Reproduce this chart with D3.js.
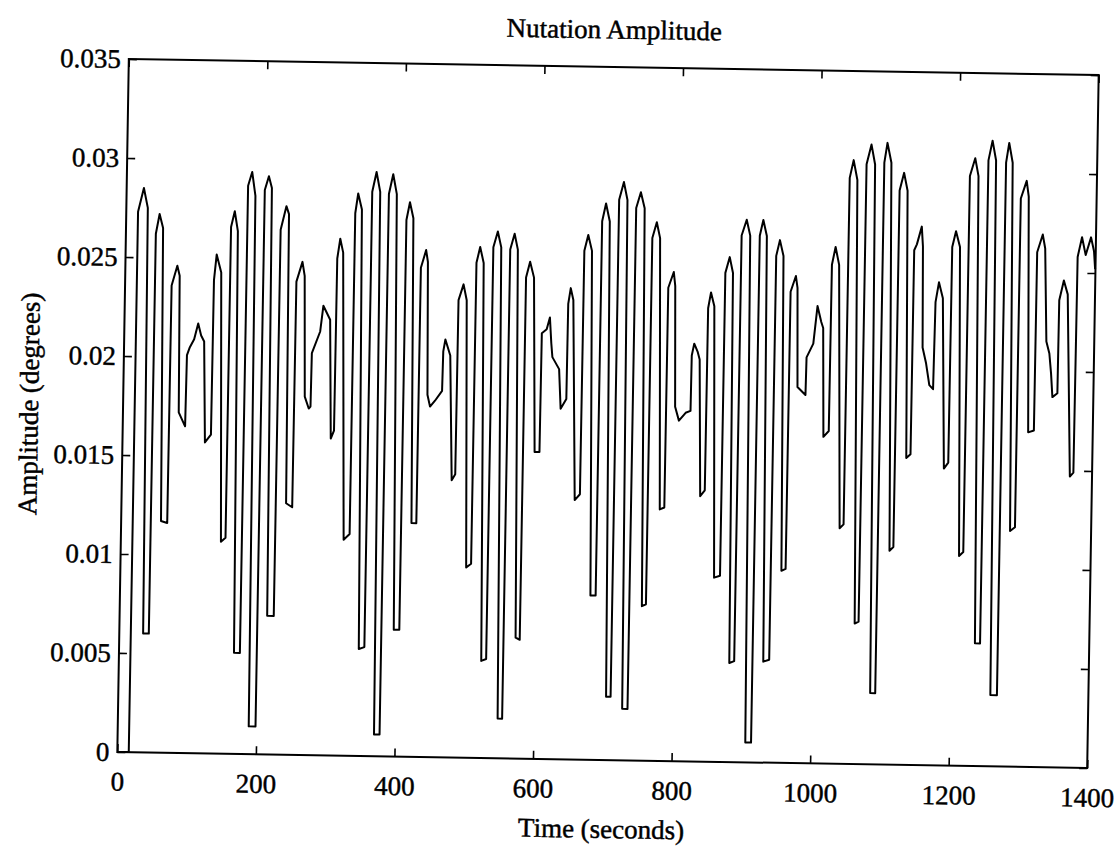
<!DOCTYPE html>
<html>
<head>
<meta charset="utf-8">
<title>Nutation Amplitude</title>
<script src="https://d3js.org/d3.v7.min.js"></script>
<style>
  body { margin: 0; background: #fff; }
  text { font-family: "Liberation Serif", "DejaVu Serif", serif; fill: #000; stroke: #000; stroke-width: 0.45px; }
</style>
</head>
<body>
<script>
// axis ticks
var timeTicks = [0, 200, 400, 600, 800, 1000, 1200, 1400];
var ampTicks = [0, 0.005, 0.01, 0.015, 0.02, 0.025, 0.03, 0.035];
var ampTickLabels = ["0", "0.005", "0.01", "0.015", "0.02", "0.025", "0.03", "0.035"];

// trace vertices: [time (s), amplitude (deg)]
var nutation = [
  [0, 0], [16.5, 0],
  [17, 0.0273], [24.9, 0.0285], [31, 0.0275], [34.4, 0.0060], [42.6, 0.0060],
  [43.2, 0.0262], [48.2, 0.0272], [53.5, 0.0265], [57.5, 0.0117], [66.5, 0.0116],
  [67.2, 0.0236], [75, 0.0246], [78.6, 0.0241], [80.5, 0.0172], [90, 0.0165],
  [91, 0.0201], [95, 0.0205], [101, 0.0209], [106.5, 0.0217], [111, 0.0211], [115.5, 0.0208], [119, 0.0157], [127.5, 0.0161],
  [128.2, 0.0239], [131.5, 0.0252], [138.5, 0.0243], [144.5, 0.0107], [151, 0.0109],
  [151.6, 0.0266], [156.6, 0.0274], [161.5, 0.0264], [166, 0.0051], [174.5, 0.0051],
  [175.2, 0.0287], [180.8, 0.0294], [186, 0.0282], [189, 0.0014], [198.8, 0.0014],
  [199.4, 0.0285], [205, 0.0292], [209.6, 0.0286], [213, 0.0070], [222.5, 0.0070],
  [223.2, 0.0265], [231, 0.0277], [234.9, 0.0273], [237.6, 0.0127], [246.5, 0.0125],
  [247.2, 0.0239], [255.5, 0.0249], [259, 0.0242], [262, 0.0181], [268, 0.0175], [270.5, 0.0176],
  [271.2, 0.0203], [282.7, 0.0214], [286.7, 0.0227], [296.8, 0.0220], [300.5, 0.0160], [305, 0.0164],
  [305.6, 0.0251], [309.5, 0.0261], [314, 0.0254], [321.5, 0.0109], [330, 0.0112],
  [330.5, 0.0274], [334.3, 0.0284], [340, 0.0276], [346, 0.0054], [354, 0.0055],
  [354.5, 0.0285], [360.3, 0.0295], [366, 0.0285], [370, 0.0011], [378, 0.0011],
  [378.6, 0.0284], [384.4, 0.0294], [390, 0.0284], [396, 0.0064], [404, 0.0064],
  [404.5, 0.0271], [409.2, 0.0280], [414.5, 0.0272], [419, 0.0118], [426, 0.0118],
  [426.5, 0.0247], [433.7, 0.0256], [436.5, 0.0250], [439, 0.0183], [443, 0.0177], [450, 0.0180], [460, 0.0185],
  [460.8, 0.0205], [463.6, 0.0211], [471, 0.0203], [476, 0.0140], [481, 0.0143],
  [481.6, 0.0231], [488.5, 0.0239], [493.4, 0.0231], [499, 0.0096], [506, 0.0098],
  [506.6, 0.0250], [511.6, 0.0258], [517, 0.0250], [523, 0.0049], [530, 0.0050],
  [530.6, 0.0258], [536.7, 0.0266], [542, 0.0258], [548, 0.0020], [554.5, 0.0020],
  [555, 0.0257], [561, 0.0265], [566, 0.0257], [572, 0.0061], [578, 0.0060],
  [578.5, 0.0243], [584, 0.0251], [590, 0.0243], [595, 0.0155], [602, 0.0155],
  [602.6, 0.0215], [609.5, 0.0217], [613.9, 0.0223], [616.5, 0.0210], [618.4, 0.0203], [628.4, 0.0197], [631.5, 0.0177], [639.5, 0.0182],
  [640, 0.0230], [643.3, 0.0238], [647.3, 0.0232], [654, 0.0131], [661.4, 0.0134],
  [662, 0.0257], [667.3, 0.0265], [673, 0.0257], [679, 0.0083], [686.5, 0.0083],
  [687, 0.0272], [692.2, 0.0281], [698, 0.0272], [704, 0.0032], [710.5, 0.0032],
  [711, 0.0283], [717.5, 0.0292], [723, 0.0283], [727.5, 0.0026], [735.2, 0.0026],
  [735.8, 0.0279], [742.2, 0.0287], [748, 0.0279], [753.5, 0.0078], [759.3, 0.0079],
  [759.8, 0.0264], [765.9, 0.0272], [771, 0.0264], [777, 0.0127], [783.5, 0.0128],
  [784, 0.0239], [791.6, 0.0247], [794, 0.0240], [796.7, 0.0179], [802.5, 0.0172], [812, 0.0176], [819, 0.0177],
  [819.5, 0.0205], [822.8, 0.0211], [827.8, 0.0207], [831, 0.0203], [835, 0.0134], [841.5, 0.0137],
  [842, 0.0229], [845.8, 0.0237], [850.9, 0.0230], [857, 0.0093], [865.5, 0.0094],
  [866, 0.0247], [872, 0.0255], [877, 0.0247], [881, 0.0050], [888, 0.0051],
  [888.6, 0.0266], [895.6, 0.0274], [901, 0.0266], [906, 0.0010], [914.3, 0.0010],
  [914.8, 0.0266], [919.6, 0.0274], [925, 0.0266], [930, 0.0051], [938.5, 0.0052],
  [939, 0.0256], [944, 0.0264], [949.5, 0.0256], [954, 0.0097], [960, 0.0098],
  [960.6, 0.0238], [967.9, 0.0246], [970.5, 0.0240], [972.8, 0.0190], [984.5, 0.0186],
  [985.2, 0.0205], [994.6, 0.0212], [999.8, 0.0231], [1005.6, 0.0223], [1008.5, 0.0220], [1011.4, 0.0165], [1019, 0.0168],
  [1019.6, 0.0252], [1024.5, 0.0261], [1030, 0.0252], [1037, 0.0119], [1042.6, 0.0121],
  [1043.2, 0.0296], [1048.5, 0.0305], [1054.3, 0.0295], [1061, 0.0071], [1066.6, 0.0072],
  [1067.2, 0.0303], [1073.9, 0.0313], [1079.5, 0.0303], [1085, 0.0036], [1092.3, 0.0036],
  [1092.8, 0.0304], [1096.9, 0.0314], [1103, 0.0304], [1109.5, 0.0108], [1115, 0.0110],
  [1115.5, 0.0290], [1121.6, 0.0299], [1127, 0.0290], [1131.5, 0.0155], [1137.5, 0.0157],
  [1138, 0.0260], [1141.7, 0.0263], [1148.4, 0.0272], [1150.5, 0.0262], [1152.4, 0.0211], [1157.8, 0.0203], [1163, 0.0192], [1168.5, 0.0190],
  [1170, 0.0234], [1174.5, 0.0244], [1180.5, 0.0236], [1186, 0.0150], [1192.2, 0.0153],
  [1192.8, 0.0262], [1197.9, 0.0270], [1204, 0.0262], [1210, 0.0106], [1216, 0.0108],
  [1216.6, 0.0298], [1223.9, 0.0307], [1229, 0.0298], [1235, 0.0062], [1242.4, 0.0062],
  [1243, 0.0306], [1248.5, 0.0316], [1254, 0.0306], [1258.5, 0.0036], [1268, 0.0036],
  [1268.5, 0.0305], [1272.6, 0.0315], [1278, 0.0305], [1283, 0.0119], [1290, 0.0121],
  [1290.6, 0.0287], [1298.7, 0.0296], [1302, 0.0288], [1306.8, 0.0169], [1315, 0.0170],
  [1315.5, 0.0260], [1323.2, 0.0269], [1327, 0.0262], [1330.9, 0.0215], [1335.5, 0.0209], [1338.4, 0.0199], [1340.9, 0.0187], [1348, 0.0189],
  [1348.5, 0.0236], [1354.7, 0.0246], [1360.6, 0.0239], [1368, 0.0147], [1373, 0.0149],
  [1374, 0.0258], [1379.9, 0.0268], [1385.6, 0.0259], [1392.9, 0.0268], [1397.5, 0.0261], [1399.5, 0.0252]
];

var W = 1117, H = 846;
var margin = { top: 67, right: 24, bottom: 86, left: 123 },
    width = W - margin.left - margin.right,
    height = H - margin.top - margin.bottom;

var x = d3.scaleLinear().domain([0, 1400]).range([0, width]);
var y = d3.scaleLinear().domain([0, 0.035]).range([height, 0]);

var svg = d3.select("body").append("svg")
    .attr("width", W)
    .attr("height", H);

svg.append("rect").attr("width", W).attr("height", H).attr("fill", "#fff");

// the scanned figure sits slightly rotated
var root = svg.append("g")
    .attr("transform", "rotate(0.95," + (margin.left + width / 2) + "," + (margin.top + height / 2) + ")");

var g = root.append("g")
    .attr("transform", "translate(" + margin.left + "," + margin.top + ")");

var fs = "27px";

// bottom axis with labels, ticks pointing in
var xb = g.append("g")
    .attr("transform", "translate(0," + height + ")")
    .call(d3.axisBottom(x).tickValues(timeTicks).tickSizeInner(-8).tickSizeOuter(0).tickPadding(19.5)
      .tickFormat(d3.format("d")));
xb.select(".domain").remove();
xb.selectAll("text").style("font-size", fs).style("font-family", null);

var yl = g.append("g")
    .call(d3.axisLeft(y).tickValues(ampTicks).tickSizeInner(-8).tickSizeOuter(0).tickPadding(8)
      .tickFormat(function(d, i) { return ampTickLabels[i]; }));
yl.select(".domain").remove();
yl.selectAll("text").style("font-size", fs).style("font-family", null);

// top and right: ticks only
var xt = g.append("g")
    .call(d3.axisTop(x).tickValues(timeTicks).tickSizeInner(-8).tickSizeOuter(0).tickFormat(""));
xt.select(".domain").remove();

var yr = g.append("g")
    .attr("transform", "translate(" + width + ",0)")
    .call(d3.axisRight(y).tickValues(ampTicks).tickSizeInner(-8).tickSizeOuter(0).tickFormat(""));
yr.select(".domain").remove();

g.selectAll(".tick line").attr("stroke", "#000").attr("stroke-width", 1.6);

// box
g.append("rect")
    .attr("width", width)
    .attr("height", height)
    .attr("fill", "none")
    .attr("stroke", "#000")
    .attr("stroke-width", 2);

// trace
var line = d3.line()
    .x(function(d) { return x(d[0]); })
    .y(function(d) { return y(d[1]); });

g.append("path")
    .datum(nutation)
    .attr("d", line)
    .attr("fill", "none")
    .attr("stroke", "#000")
    .attr("stroke-width", 2)
    .attr("stroke-linejoin", "round");

// titles
g.append("text")
    .attr("x", width / 2)
    .attr("y", -28.5)
    .attr("text-anchor", "middle")
    .style("font-size", fs)
    .text("Nutation Amplitude");

g.append("text")
    .attr("x", width / 2)
    .attr("y", height + 78)
    .attr("text-anchor", "middle")
    .style("font-size", fs)
    .text("Time (seconds)");

g.append("text")
    .attr("transform", "translate(" + (38 - margin.left) + "," + (height / 2) + ") rotate(-90)")
    .attr("text-anchor", "middle")
    .style("font-size", fs)
    .text("Amplitude (degrees)");
</script>
</body>
</html>
